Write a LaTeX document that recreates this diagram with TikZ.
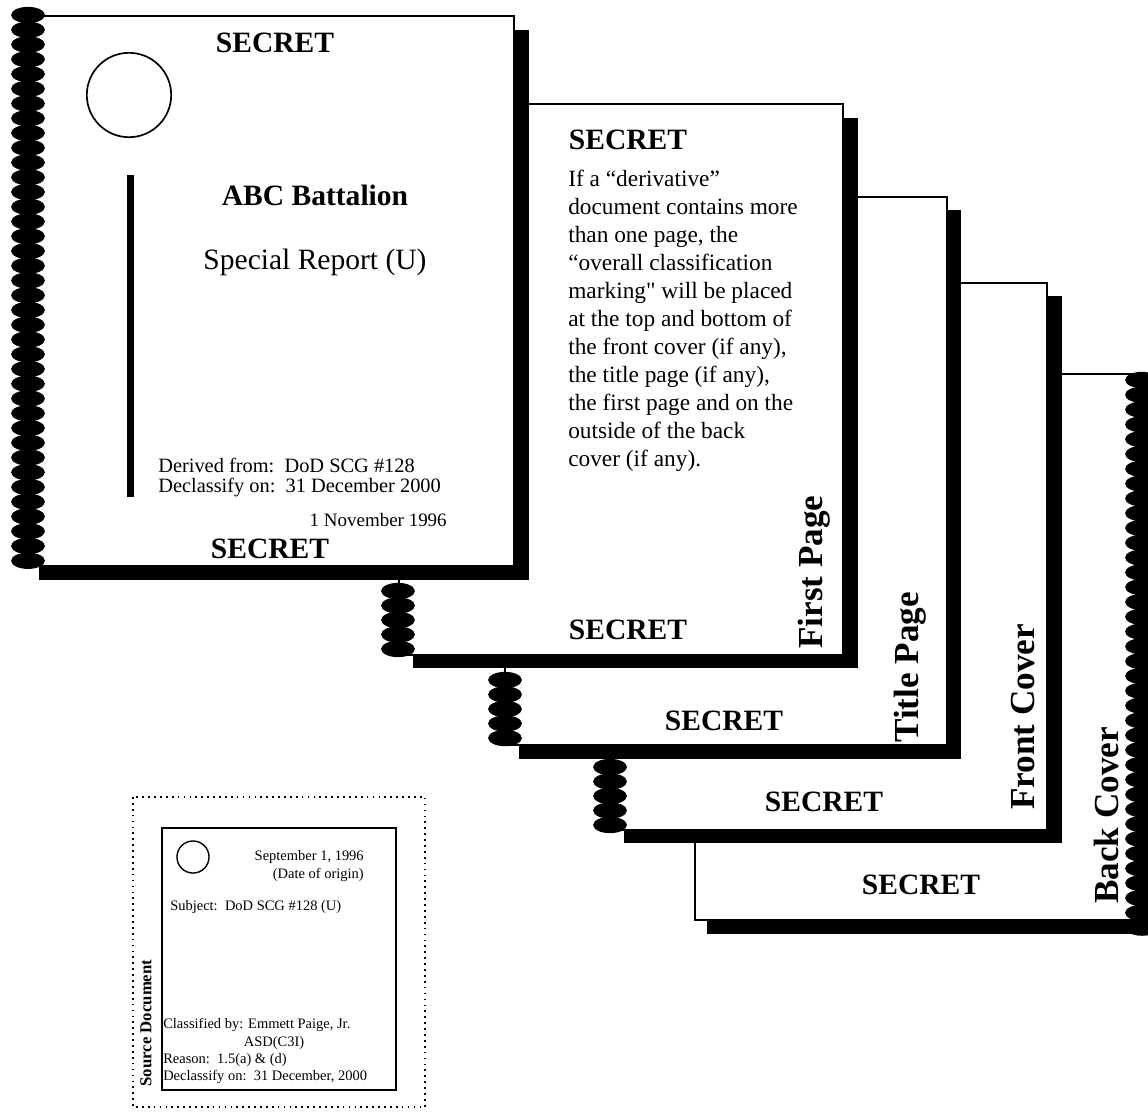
\documentclass[tikz,border=0pt]{standalone}
\usepackage{fontspec}
\setmainfont{Liberation Serif}[Ligatures=TeXOff]
\begin{document}
\begin{tikzpicture}[x=0.025cm,y=-0.025cm]

      \tikzset{sheet/.style={draw, fill=white, line width=1.2pt},
               coil/.style={fill=black},
               txt/.style={inner sep=0pt},
               stamp/.style={inner sep=0pt, font=\fontsize{21}{24}\selectfont\bfseries},
               tab/.style={rotate=90, anchor=base west, inner sep=0pt, font=\fontsize{25}{28}\selectfont\bfseries}}
      \useasboundingbox (0,0) rectangle (1148,1114);
%% Back Cover
      	\fill (707,387) rectangle (1160,934);
      	\draw[sheet] (695,374) rectangle (1142,920);
      	\foreach \k in {0,...,37} \fill[coil] (1142,{380+14.8*\k}) ellipse [x radius=12pt, y radius=5.8pt];
      	\node[stamp] (s5) at (921,885) {SECRET};
      	\node[tab] (back) at (1118,904) {Back Cover};
%% Front Cover
      	\fill (624,296) rectangle (1062,843);
      	\draw[sheet] (610,283) rectangle (1047,830);
      	\foreach \k in {0,...,4} \fill[coil] (610,{825-14.5*\k}) ellipse [x radius=12pt, y radius=5.8pt];
      	\node[stamp] (s4) at (824,802) {SECRET};
      	\node[tab] (front) at (1034,810) {Front Cover};
%% Title Page
      	\fill (519,210) rectangle (961,759);
      	\draw[sheet] (505,197) rectangle (947,745);
      	\foreach \k in {0,...,4} \fill[coil] (505,{738-14.5*\k}) ellipse [x radius=12pt, y radius=5.8pt];
      	\node[stamp] (s3) at (724,721) {SECRET};
      	\node[tab] (titlep) at (918,743) {Title Page};
%% First Page
      	\fill (413,118) rectangle (858,668);
      	\draw[sheet] (399,104) rectangle (843,655);
      	\foreach \k in {0,...,4} \fill[coil] (398,{649-14.5*\k}) ellipse [x radius=12pt, y radius=5.8pt];
      	\node[stamp] (s2top) at (628,140) {SECRET};
      	\node[txt, anchor=north west, align=left, font=\fontsize{16.6}{19.9}\selectfont] (note) at (568,170)
      	  {If a “derivative”\\ document contains more\\ than one page, the\\ “overall classification\\
      	   marking" will be placed\\ at the top and bottom of\\ the front cover (if any),\\
      	   the title page (if any),\\ the first page and on the\\ outside of the back\\ cover (if any).};
      	\node[stamp] (s2bot) at (628,630) {SECRET};
      	\node[tab] (first) at (822,649) {First Page};
%% Report cover
      	\fill (39,30) rectangle (529,580);
      	\draw[sheet] (28,16) rectangle (514,566);
      	\foreach \k in {0,...,37} \fill[coil] (28,{15+14.75*\k}) ellipse [x radius=12pt, y radius=5.8pt];
      	\node[stamp] (s1top) at (275,43) {SECRET};
      	\draw[line width=1.2pt] (129,95) circle [radius=30pt];
      	\fill (127,175) rectangle (134,497);
      	\node[stamp] (unit) at (315,195) {ABC Battalion};
      	\node[txt, font=\fontsize{21}{24}\selectfont] (title) at (315,262) {Special Report (U)};
      	\node[txt, anchor=west, font=\fontsize{14.5}{16}\selectfont] (derived) at (158,465) {Derived from:\ \ DoD SCG \#128};
      	\node[txt, anchor=west, font=\fontsize{14.5}{16}\selectfont] (declass) at (158,488) {Declassify on:\ \ 31 December 2000};
      	\node[txt, anchor=east, font=\fontsize{13.5}{16}\selectfont] (date) at (447,520) {1 November 1996};
      	\node[stamp] (s1bot) at (270,549) {SECRET};
%% Source Document
      	\draw[line width=1.2pt, dash pattern=on 1.2pt off 3pt] (133,797) rectangle (425,1107);
      	\draw[line width=1pt] (162,828) rectangle (396,1090);
      	\draw[line width=1pt] (193,857) circle [radius=11.4pt];
      	\node[txt, anchor=east, font=\fontsize{10.3}{12}\selectfont] (sdate) at (364,857) {September 1, 1996};
      	\node[txt, anchor=east, font=\fontsize{10.3}{12}\selectfont] (origin) at (364,875) {(Date of origin)};
      	\node[txt, anchor=west, font=\fontsize{10.3}{12}\selectfont] (subj) at (170,907) {Subject:\ \ DoD SCG \#128 (U)};
      	\node[txt, anchor=west, font=\fontsize{10.3}{12}\selectfont] (clby) at (163,1025) {Classified by: Emmett Paige, Jr.};
      	\node[txt, font=\fontsize{10.3}{12}\selectfont] (asd) at (274,1043) {ASD(C3I)};
      	\node[txt, anchor=west, font=\fontsize{10.3}{12}\selectfont] (reason) at (163,1060) {Reason:\ \ 1.5(a) \& (d)};
      	\node[txt, anchor=west, font=\fontsize{10.3}{12}\selectfont] (sdecl) at (163,1077) {Declassify on:\ \ 31 December, 2000};
      	\node[txt, rotate=90, font=\fontsize{11.9}{14}\selectfont\bfseries] (srcdoc) at (146,1023) {Source Document};

\end{tikzpicture}
\end{document}
